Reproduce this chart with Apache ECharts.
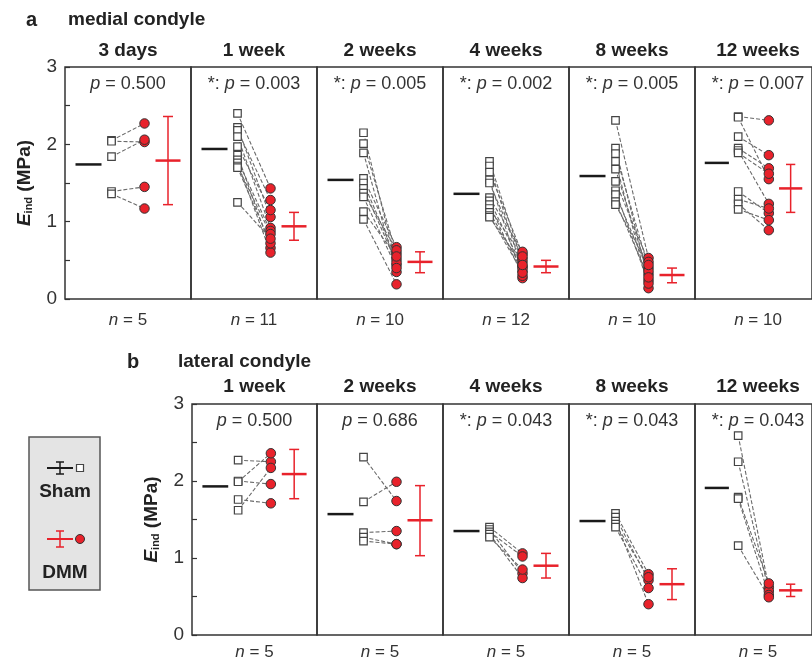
<!DOCTYPE html>
<html>
<head>
<meta charset="utf-8">
<script src="https://cdn.jsdelivr.net/npm/echarts@6/dist/echarts.min.js"></script>
<style>
  html, body { margin: 0; padding: 0; background: #fff; }
  #chart { width: 812px; height: 665px; }
</style>
</head>
<body>
<div id="chart"></div>
<script>
// ---- data ----
var medialTitles = ['3 days', '1 week', '2 weeks', '4 weeks', '8 weeks', '12 weeks'];
var medialP = ['0.500', '0.003', '0.005', '0.002', '0.005', '0.007'];
var medialSig = [false, true, true, true, true, true];
var medialN = [5, 11, 10, 12, 10, 10];
var medialSham = [
  [2.05, 2.04, 1.84, 1.39, 1.36],
  [2.40, 2.22, 2.18, 2.10, 1.97, 1.86, 1.80, 1.76, 1.72, 1.70, 1.25],
  [2.15, 2.01, 1.89, 1.56, 1.50, 1.43, 1.37, 1.32, 1.13, 1.03],
  [1.78, 1.72, 1.64, 1.54, 1.50, 1.31, 1.27, 1.22, 1.17, 1.12, 1.08, 1.06],
  [2.31, 1.95, 1.88, 1.78, 1.68, 1.52, 1.40, 1.35, 1.26, 1.22],
  [2.36, 2.35, 2.10, 1.95, 1.92, 1.89, 1.39, 1.29, 1.23, 1.16]
];
var medialDmm = [
  [2.27, 2.03, 2.06, 1.45, 1.17],
  [1.43, 1.06, 1.28, 0.92, 1.15, 0.66, 0.88, 0.60, 0.84, 0.72, 0.78],
  [0.44, 0.59, 0.35, 0.67, 0.51, 0.47, 0.63, 0.40, 0.55, 0.19],
  [0.48, 0.36, 0.58, 0.27, 0.52, 0.61, 0.42, 0.30, 0.55, 0.40, 0.34, 0.44],
  [0.53, 0.24, 0.40, 0.14, 0.32, 0.48, 0.20, 0.36, 0.28, 0.44],
  [2.31, 1.55, 1.86, 1.69, 1.23, 1.62, 1.11, 1.17, 0.89, 1.02]
];
var medialShamMean = [1.74, 1.94, 1.54, 1.36, 1.59, 1.76];
var medialDmmMean = [1.79, 0.94, 0.48, 0.42, 0.31, 1.43];
var medialDmmHigh = [2.36, 1.12, 0.61, 0.50, 0.40, 1.74];
var medialDmmLow = [1.22, 0.76, 0.34, 0.34, 0.21, 1.12];

var lateralTitles = ['1 week', '2 weeks', '4 weeks', '8 weeks', '12 weeks'];
var lateralP = ['0.500', '0.686', '0.043', '0.043', '0.043'];
var lateralSig = [false, false, true, true, true];
var lateralN = [5, 5, 5, 5, 5];
var lateralSham = [
  [2.27, 2.00, 1.99, 1.76, 1.62],
  [2.31, 1.73, 1.33, 1.27, 1.22],
  [1.40, 1.37, 1.34, 1.31, 1.27],
  [1.58, 1.53, 1.48, 1.44, 1.40],
  [2.59, 2.25, 1.79, 1.77, 1.16]
];
var lateralDmm = [
  [2.25, 1.96, 2.36, 1.71, 2.17],
  [1.74, 1.99, 1.35, 1.18, 1.18],
  [1.06, 0.80, 1.02, 0.74, 0.85],
  [0.79, 0.71, 0.40, 0.75, 0.61],
  [0.62, 0.57, 0.67, 0.52, 0.49]
];
var lateralShamMean = [1.93, 1.57, 1.35, 1.48, 1.91];
var lateralDmmMean = [2.09, 1.49, 0.90, 0.66, 0.58];
var lateralDmmHigh = [2.41, 1.94, 1.06, 0.86, 0.66];
var lateralDmmLow = [1.77, 1.03, 0.74, 0.46, 0.50];

// ---- layout ----
var FONT = 'Liberation Sans, Arial, sans-serif';
var RED = '#e8222b';
var POS = { meanL: 10.5, meanR: 36.5, sham: 46.5, dmm: 79.5, bar: 103 };
var rows = [
  { lefts: [65, 191, 317, 443, 569, 695], top: 67, height: 232, titleY: 51, pY: 84, nY: 320,
    titles: medialTitles, p: medialP, sig: medialSig, n: medialN, sham: medialSham, dmm: medialDmm,
    shamMean: medialShamMean, dmmMean: medialDmmMean, hi: medialDmmHigh, lo: medialDmmLow },
  { lefts: [192, 317, 443, 569, 695], top: 404, height: 231, titleY: 387, pY: 421, nY: 652,
    titles: lateralTitles, p: lateralP, sig: lateralSig, n: lateralN, sham: lateralSham, dmm: lateralDmm,
    shamMean: lateralShamMean, dmmMean: lateralDmmMean, hi: lateralDmmHigh, lo: lateralDmmLow }
];

var grid = [], xAxis = [], yAxis = [], series = [], graphic = [];

function txt(x, y, text, size, opt) {
  opt = opt || {};
  graphic.push({
    type: 'text', x: x, y: y, rotation: opt.rotation || 0, z: 100,
    style: {
      text: text, fontFamily: FONT, fontSize: size, fontWeight: opt.bold ? 'bold' : 'normal',
      fill: opt.color || '#222', align: opt.align || 'center', verticalAlign: 'middle',
      rich: opt.rich
    }
  });
}

function errorRender(params, api) {
  var sm = api.value(0), dm = api.value(1), lo = api.value(2), hi = api.value(3);
  function line(x1, y1, x2, y2, color, w) {
    var a = api.coord([x1, y1]), b = api.coord([x2, y2]);
    return { type: 'line', shape: { x1: a[0], y1: a[1], x2: b[0], y2: b[1] },
      style: { stroke: color, lineWidth: w } };
  }
  var c = POS.bar;
  return { type: 'group', children: [
    line(POS.meanL, sm, POS.meanR, sm, '#1a1a1a', 2.5),
    line(c, lo, c, hi, RED, 1.5),
    line(c - 12.5, dm, c + 12.5, dm, RED, 2.5),
    line(c - 5, hi, c + 5, hi, RED, 1.5),
    line(c - 5, lo, c + 5, lo, RED, 1.5)
  ] };
}

var idx = 0;
rows.forEach(function (r, ri) {
  r.lefts.forEach(function (left, k) {
    var width = k < r.lefts.length - 1 ? r.lefts[k + 1] - left : 126;
    grid.push({ left: left, top: r.top, width: width, height: r.height, show: true,
      borderColor: '#333', borderWidth: 1.5, backgroundColor: 'transparent' });
    xAxis.push({ gridIndex: idx, type: 'value', min: 0, max: 126, show: false });
    var first = k === 0;
    yAxis.push({
      gridIndex: idx, type: 'value', min: 0, max: 3, interval: 1, show: first,
      axisLine: { show: false },
      axisTick: { show: true, inside: true, length: 5, lineStyle: { color: '#333', width: 1.2 } },
      minorTick: { show: true, splitNumber: 2, length: 5, lineStyle: { color: '#333', width: 1.2 } },
      axisLabel: { margin: 8, fontSize: 19, color: '#333', fontFamily: FONT },
      splitLine: { show: false }
    });

    var sh = r.sham[k], dm = r.dmm[k];
    series.push({
      type: 'lines', coordinateSystem: 'cartesian2d', xAxisIndex: idx, yAxisIndex: idx, z: 1,
      silent: true, polyline: false,
      lineStyle: { color: '#6a6a6a', width: 1.1, type: [4, 2], opacity: 1 },
      data: sh.map(function (v, j) { return { coords: [[POS.sham, v], [POS.dmm, dm[j]]] }; })
    });
    series.push({
      type: 'scatter', xAxisIndex: idx, yAxisIndex: idx, z: 3, symbol: 'rect', symbolSize: 7.5,
      itemStyle: { color: '#fff', borderColor: '#444', borderWidth: 1.2, opacity: 1 },
      data: sh.map(function (v) { return [POS.sham, v]; })
    });
    series.push({
      type: 'scatter', xAxisIndex: idx, yAxisIndex: idx, z: 4, symbol: 'circle', symbolSize: 9.5,
      itemStyle: { color: RED, borderColor: '#333', borderWidth: 1, opacity: 1 },
      data: dm.map(function (v) { return [POS.dmm, v]; })
    });
    series.push({
      type: 'custom', xAxisIndex: idx, yAxisIndex: idx, z: 5, renderItem: errorRender,
      data: [[r.shamMean[k], r.dmmMean[k], r.lo[k], r.hi[k]]]
    });

    var cx = left + width / 2;
    txt(cx, r.titleY, r.titles[k], 19, { bold: true, color: '#222' });
    txt(cx, r.pY, (r.sig[k] ? '*: ' : '') + '{i|p} = ' + r.p[k], 18,
      { color: '#333', rich: { i: { fontStyle: 'italic', fontSize: 18, fontFamily: FONT, fill: '#333' } } });
    txt(cx, r.nY, '{i|n} = ' + r.n[k], 17,
      { color: '#333', rich: { i: { fontStyle: 'italic', fontSize: 17, fontFamily: FONT, fill: '#333' } } });
    idx++;
  });
  // y axis name
  var yname = '{e|E}{s|ind} {m|(MPa)}';
  var yrich = {
    e: { fontSize: 19, fontWeight: 'bold', fontStyle: 'italic', fontFamily: FONT, fill: '#222' },
    s: { fontSize: 11, fontWeight: 'bold', fontFamily: FONT, fill: '#222', verticalAlign: 'bottom', padding: [8, 0, 0, 0] },
    m: { fontSize: 19, fontWeight: 'bold', fontFamily: FONT, fill: '#222' }
  };
  txt(r.lefts[0] - 40, r.top + r.height / 2, yname, 19, { rotation: Math.PI / 2, rich: yrich });
});

// row headers
txt(26, 20, 'a', 20, { bold: true, align: 'left' });
txt(68, 20, 'medial condyle', 19, { bold: true, align: 'left' });
txt(127, 362, 'b', 20, { bold: true, align: 'left' });
txt(178, 362, 'lateral condyle', 19, { bold: true, align: 'left' });

// legend box
function gl(x1, y1, x2, y2, color, w) {
  graphic.push({ type: 'line', z: 101, shape: { x1: x1, y1: y1, x2: x2, y2: y2 }, style: { stroke: color, lineWidth: w } });
}
graphic.push({ type: 'rect', z: 99, shape: { x: 29, y: 437, width: 71, height: 153 },
  style: { fill: '#e4e4e4', stroke: '#555', lineWidth: 1.5 } });
gl(60, 462, 60, 474, '#1a1a1a', 1.5); gl(56, 462, 64, 462, '#1a1a1a', 1.5); gl(56, 474, 64, 474, '#1a1a1a', 1.5);
gl(47, 468, 73, 468, '#1a1a1a', 2);
graphic.push({ type: 'rect', z: 101, shape: { x: 76.5, y: 464.5, width: 7, height: 7 }, style: { fill: '#fff', stroke: '#444', lineWidth: 1.2 } });
txt(65, 492, 'Sham', 19, { bold: true });
gl(60, 531, 60, 547, RED, 1.5); gl(56, 531, 64, 531, RED, 1.5); gl(56, 547, 64, 547, RED, 1.5);
gl(47, 539, 73, 539, RED, 2);
graphic.push({ type: 'circle', z: 101, shape: { cx: 80, cy: 539, r: 4.5 }, style: { fill: RED, stroke: '#333', lineWidth: 1 } });
txt(65, 573, 'DMM', 19, { bold: true });

var chart = echarts.init(document.getElementById('chart'), null, { renderer: 'canvas' });
chart.setOption({
  animation: false,
  backgroundColor: '#fff',
  textStyle: { fontFamily: FONT },
  grid: grid, xAxis: xAxis, yAxis: yAxis, series: series, graphic: graphic
});
</script>
</body>
</html>
